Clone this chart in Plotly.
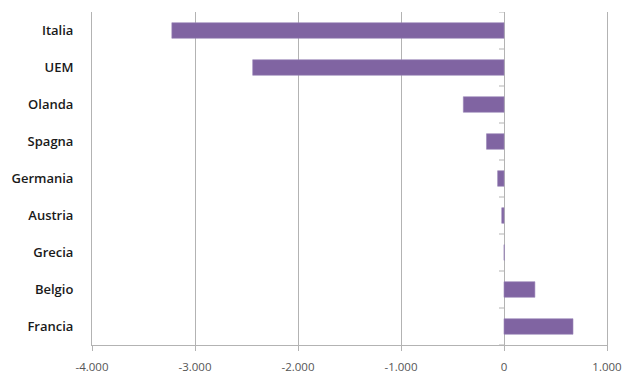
import plotly.graph_objects as go

countries = ["Italia", "UEM", "Olanda", "Spagna", "Germania", "Austria", "Grecia", "Belgio", "Francia"]
values = [-3225, -2440, -395, -170, -62, -22, 3, 300, 670]
x_ticks = [-4000, -3000, -2000, -1000, 0, 1000]
x_tick_text = ["-4.000", "-3.000", "-2.000", "-1.000", "0", "1.000"]

fig = go.Figure()
fig.add_trace(go.Bar(
    y=countries, x=values, orientation="h",
    marker=dict(color="#8064A2", line=dict(color="#9a86b8", width=0.6)),
    width=0.42,
))

grid = "#b3b3b3"
shapes = []
for i in range(len(countries) + 1):
    shapes.append(dict(type="line", xref="x", yref="y", xsizemode="pixel", xanchor=0,
                       x0=-5, x1=0, y0=i - 0.5, y1=i - 0.5,
                       line=dict(color=grid, width=1)))

# page body has an 8px margin; size the figure so the plot area lands where the reference has it
fig.update_layout(
    width=632, height=376,
    margin=dict(l=84, r=33, t=4, b=39),
    paper_bgcolor="white", plot_bgcolor="white",
    showlegend=False,
    shapes=shapes,
    xaxis=dict(
        range=[-4000, 1000], tickvals=x_ticks, ticktext=x_tick_text,
        showgrid=True, gridcolor=grid, gridwidth=1,
        zeroline=True, zerolinecolor=grid, zerolinewidth=1,
        showline=True, linecolor=grid, linewidth=1,
        ticks="outside", ticklen=5, tickcolor=grid,
        ticklabelstandoff=6,
        tickfont=dict(family="Open Sans", size=11.5, color="#555555"),
    ),
    yaxis=dict(
        range=[8.5, -0.5], type="category",
        showgrid=False, zeroline=False,
        showline=True, mirror=True, linecolor=grid, linewidth=1,
        ticks="", ticklabelstandoff=15,
        tickfont=dict(family="Open Sans", size=13, color="#1a1a1a", weight=600),
    ),
)

fig.write_html("out.html")
